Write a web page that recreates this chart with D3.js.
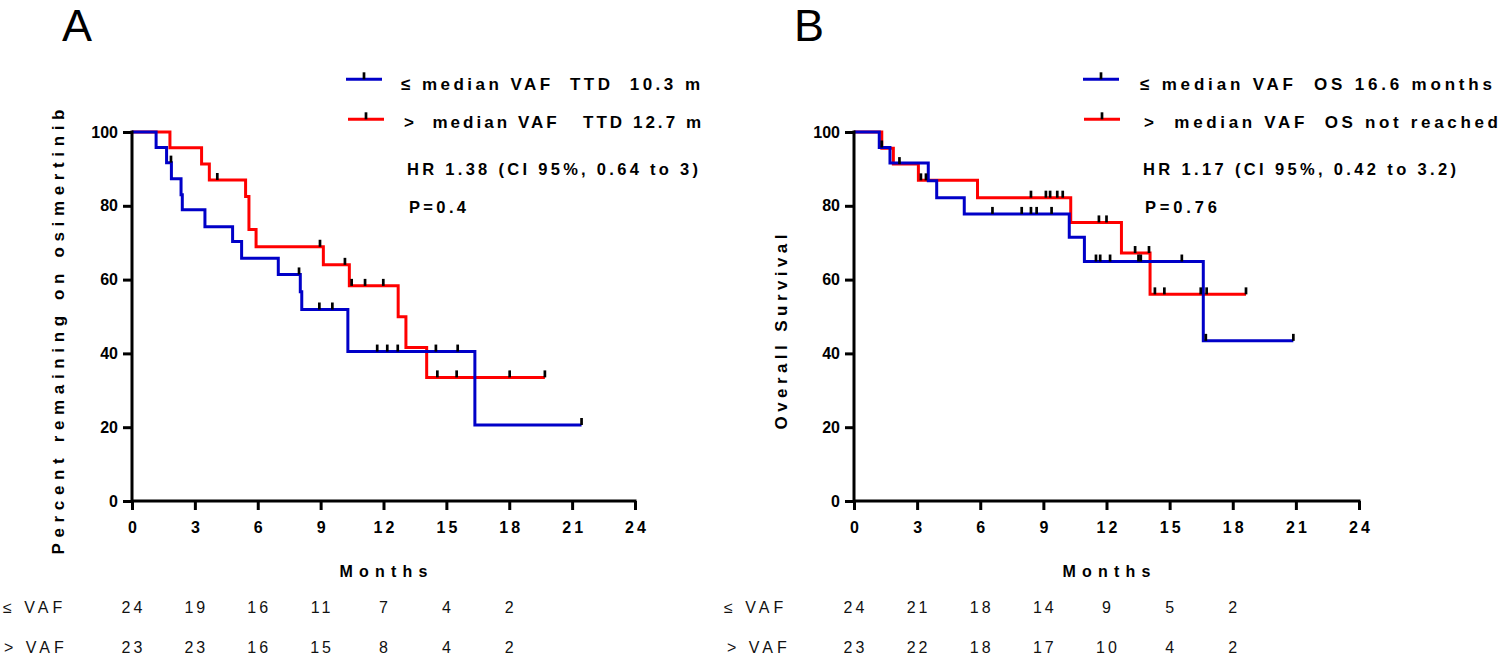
<!DOCTYPE html>
<html><head><meta charset="utf-8">
<script src="https://cdn.jsdelivr.net/npm/d3@7"></script>
<style>body{margin:0;background:#fff;} svg{display:block;font-family:"Liberation Sans",Arial,sans-serif;}</style>
</head><body><svg id="c" width="1500" height="657"></svg>
<script>
// ---------- shared ticks ----------
const monthTicks = [0,3,6,9,12,15,18,21,24];
const pctTicks = [0,20,40,60,80,100];
const riskTimes = [0,3,6,9,12,15,18];

// ---------- Panel A : time to treatment discontinuation ----------
const aBlueSteps = [[0,100],[1.15,95.8],[1.65,91.7],[1.88,87.3],[2.34,83.0],[2.40,78.9],[3.48,74.3],[4.80,70.3],[5.23,65.8],[6.98,61.4],[8.03,56.7],[8.10,51.9],[10.30,40.5],[16.36,20.6]];
const aBlueEnd = 21.45;
const aBlueCensor = [1.86,7.97,8.94,9.56,11.70,12.18,12.68,14.50,15.54,21.45];
const aRedSteps = [[0,100],[1.81,95.7],[3.32,91.3],[3.69,87.0],[5.42,82.5],[5.58,73.6],[5.92,68.9],[9.13,64.0],[10.37,58.3],[12.70,49.9],[13.07,41.6],[14.06,33.5]];
const aRedEnd = 19.70;
const aRedCensor = [4.07,8.97,10.16,10.48,11.12,11.99,14.57,15.49,18.02,19.70];
const aRiskLow = [24,19,16,11,7,4,2];
const aRiskHigh = [23,23,16,15,8,4,2];
const aLegend = ["≤ median VAF  TTD  10.3 m", ">  median VAF   TTD 12.7 m"];
const aStats = ["HR 1.38 (CI 95%, 0.64 to 3)", "P=0.4"];

// ---------- Panel B : overall survival ----------
const bBlueSteps = [[0,100],[1.20,95.8],[1.71,91.6],[3.53,86.8],[3.93,82.2],[5.24,77.8],[10.23,71.5],[10.95,64.9],[16.60,43.4]];
const bBlueEnd = 20.88;
const bBlueCensor = [1.32,6.58,7.97,8.41,8.68,9.39,11.50,11.70,12.17,13.52,13.63,15.58,16.72,20.88];
const bRedSteps = [[0,100],[1.32,95.6],[1.87,91.3],[3.06,86.9],[5.87,82.2],[10.30,75.5],[12.71,67.2],[14.07,56.0]];
const bRedEnd = 18.63;
const bRedCensor = [2.16,3.18,3.42,8.41,9.12,9.32,9.66,9.92,11.64,12.00,13.36,14.02,14.30,14.75,16.48,16.76,18.63];
const bRiskLow = [24,21,18,14,9,5,2];
const bRiskHigh = [23,22,18,17,10,4,2];
const bLegend = ["≤ median VAF  OS 16.6 months", ">  median VAF  OS not reached"];
const bStats = ["HR 1.17 (CI 95%, 0.42 to 3.2)", "P=0.76"];

const riskLabels = ["≤ VAF", "> VAF"];
const BLUE = "#0000c8", RED = "#ff0000";

const svg = d3.select("#c");

function panel(cfg){
  const g = svg.append("g");
  const x = d3.scaleLinear().domain([0,24]).range([cfg.x0, cfg.x1]);
  const y = d3.scaleLinear().domain([0,100]).range([501,132]);

  // panel letter
  g.append("text").attr("x",cfg.letterX).attr("y",41).attr("font-size",45)
    .attr("font-family","Liberation Sans, Arial").text(cfg.letter);

  // curves
  const line = d3.line().x(d=>x(d[0])).y(d=>y(d[1])).curve(d3.curveStepAfter);
  function curve(steps,end,color){
    const pts = steps.concat([[end, steps[steps.length-1][1]]]);
    g.append("path").attr("d",line(pts)).attr("fill","none")
      .attr("stroke",color).attr("stroke-width",3);
  }
  function valAt(steps,t){ let v=100; steps.forEach(s=>{ if(s[0]<=t) v=s[1]; }); return v; }
  curve(cfg.red, cfg.redEnd, RED);
  curve(cfg.blue, cfg.blueEnd, BLUE);
  function censors(steps, list){
    g.selectAll(null).data(list).enter().append("line")
      .attr("x1",d=>x(d)).attr("x2",d=>x(d))
      .attr("y1",d=>y(valAt(steps,d))).attr("y2",d=>y(valAt(steps,d))-7)
      .attr("stroke","#000").attr("stroke-width",2.7);
  }
  censors(cfg.red, cfg.redCensor);
  censors(cfg.blue, cfg.blueCensor);

  // axes
  const xa = g.append("g").attr("transform","translate(0,501)")
    .call(d3.axisBottom(x).tickValues(monthTicks).tickSize(9).tickPadding(12).tickFormat(d3.format("d")));
  const ya = g.append("g").attr("transform",`translate(${cfg.x0},0)`)
    .call(d3.axisLeft(y).tickValues(pctTicks).tickSize(9).tickPadding(5).tickFormat(d3.format("d")));
  [xa,ya].forEach(a=>{
    a.selectAll(".tick line").attr("stroke","#000").attr("stroke-width",3);
    a.selectAll("text").attr("font-size",16).attr("font-weight","bold").attr("fill","#000")
      .attr("font-family","Liberation Sans, Arial");
  });
  xa.select(".domain").remove();
  ya.select(".domain").remove();
  g.append("line").attr("x1",cfg.x0).attr("x2",cfg.x1+1.5).attr("y1",501).attr("y2",501).attr("stroke","#000").attr("stroke-width",3);
  g.append("line").attr("x1",cfg.x0).attr("x2",cfg.x0).attr("y1",130.5).attr("y2",502.5).attr("stroke","#000").attr("stroke-width",3);
  xa.selectAll("text").attr("letter-spacing","3px").attr("dx","1.5px");

  // axis titles
  g.append("text").attr("x",(cfg.x0+cfg.x1)/2).attr("y",577).attr("text-anchor","middle")
    .attr("font-size",16).attr("font-weight","bold").attr("textLength",88).attr("lengthAdjust","spacing").text("Months");
  g.append("text").attr("transform",`translate(${cfg.yTitleX},${cfg.yTitleC}) rotate(-90)`)
    .attr("text-anchor","middle").attr("font-size",17).attr("font-weight","bold")
    .attr("textLength",cfg.yTitleLen).attr("lengthAdjust","spacing").text(cfg.yTitle);

  // legend
  const legY = [79.3,119.3];
  [BLUE,RED].forEach((c,i)=>{
    const lx = cfg.legLineX[i];
    g.append("line").attr("x1",lx).attr("x2",lx+36).attr("y1",legY[i]).attr("y2",legY[i]).attr("stroke",c).attr("stroke-width",3);
    g.append("line").attr("x1",lx+18).attr("x2",lx+18).attr("y1",legY[i]).attr("y2",legY[i]-7).attr("stroke","#000").attr("stroke-width",2.7);
    g.append("text").attr("x",cfg.legTextX[i]).attr("y",[90,128][i]).attr("font-size",17).attr("font-weight","bold")
      .style("white-space","pre").attr("textLength",cfg.legTextLen[i]).attr("lengthAdjust","spacing").text(cfg.legend[i]);
  });
  cfg.stats.forEach((s,i)=>{
    g.append("text").attr("x",cfg.statX[i]).attr("y",[175,213][i]).attr("font-size",16.5).attr("font-weight","bold")
      .style("white-space","pre").attr("textLength",cfg.statLen[i]).attr("lengthAdjust","spacing").text(s);
  });

  // risk table
  [cfg.riskLow, cfg.riskHigh].forEach((row,r)=>{
    const by = [613,653][r];
    g.append("text").attr("x",cfg.riskLabelX[r]).attr("y",by).attr("font-size",16).attr("fill","#111")
      .attr("letter-spacing","4px").text(riskLabels[r]);
    g.selectAll(null).data(row).enter().append("text")
      .attr("x",(d,i)=>x(riskTimes[i])+1.5).attr("y",by).attr("text-anchor","middle")
      .attr("font-size",16).attr("fill","#111").attr("letter-spacing","3px").text(d=>d);
  });
}

panel({letter:"A", letterX:62, x0:132, x1:635,
  blue:aBlueSteps, blueEnd:aBlueEnd, blueCensor:aBlueCensor,
  red:aRedSteps, redEnd:aRedEnd, redCensor:aRedCensor,
  yTitle:"Percent remaining on osimertinib", yTitleX:64, yTitleC:332, yTitleLen:445,
  legend:aLegend, legLineX:[346,348], legTextX:[401,404], legTextLen:[299,297],
  stats:aStats, statX:[407,409], statLen:[291,57],
  riskLow:aRiskLow, riskHigh:aRiskHigh, riskLabelX:[3,4]});

panel({letter:"B", letterX:794, x0:854, x1:1359,
  blue:bBlueSteps, blueEnd:bBlueEnd, blueCensor:bBlueCensor,
  red:bRedSteps, redEnd:bRedEnd, redCensor:bRedCensor,
  yTitle:"Overall Survival", yTitleX:787, yTitleC:332, yTitleLen:195,
  legend:bLegend, legLineX:[1083,1084], legTextX:[1140,1144], legTextLen:[352,354],
  stats:bStats, statX:[1143,1145], statLen:[313,72],
  riskLow:bRiskLow, riskHigh:bRiskHigh, riskLabelX:[724,727]});
</script></body></html>
